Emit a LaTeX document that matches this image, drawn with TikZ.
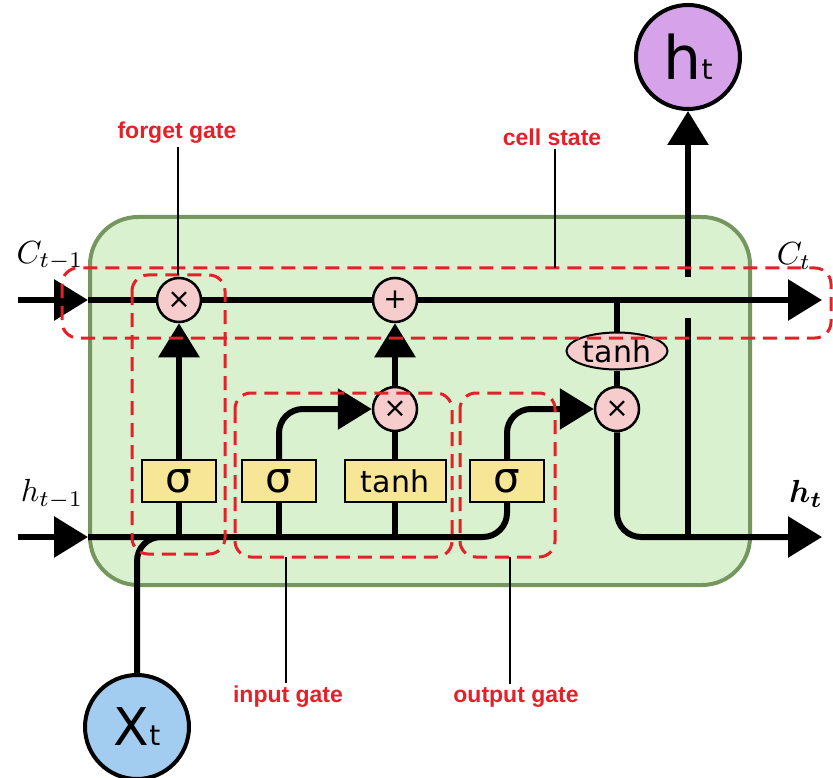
\documentclass[tikz,border=0pt]{standalone}
\usepackage{fontspec}
\usepackage{bm}
\usepackage{graphicx}
\usetikzlibrary{arrows.meta,shapes.geometric}
\newfontfamily\gatefont{DejaVu Sans}
\newfontfamily\notefont{Liberation Sans}
\definecolor{cellgreen}{RGB}{218,241,207}
\definecolor{celledge}{RGB}{118,150,96}
\definecolor{oppink}{RGB}{246,204,204}
\definecolor{layeryellow}{RGB}{246,230,150}
\definecolor{outpurple}{RGB}{214,162,234}
\definecolor{inblue}{RGB}{162,204,240}
\definecolor{notered}{RGB}{228,32,40}
\newcommand{\bigmath}[1]{\scalebox{3.2}{$#1$}}

\begin{document}
\begin{tikzpicture}[x=1pt,y=-1pt,>={Triangle[length=34pt,width=40pt]},
layer/.style={draw=black,line width=2pt,fill=layeryellow,minimum height=42pt,inner sep=0pt,font=\gatefont\fontsize{30}{30}\selectfont},
op/.style={circle,draw=black,line width=2.5pt,fill=oppink,minimum size=44pt,inner sep=0pt,font=\gatefont\fontsize{28}{28}\selectfont},
io/.style={circle,draw=black,line width=4pt,minimum size=104pt,inner sep=0pt},
flow/.style={line width=6pt},
gate/.style={draw=notered,line width=3pt,dash pattern=on 14pt off 8pt,rounded corners=16pt},
note/.style={text=notered,font=\notefont\bfseries\fontsize{23}{23}\selectfont},
pin/.style={line width=2pt}]
\useasboundingbox (0,0) rectangle (833,778);
\draw[draw=celledge,fill=cellgreen,line width=4pt,rounded corners=48pt] (90,217) rectangle (750,585);

% pointwise operations and layers
\node[op] (forget) at (179,300) {×};
\node[op] (add) at (395,300) {+};
\node[op] (inmul) at (395,409) {×};
\node[op] (outmul) at (617,409) {×};
\node[draw=black,line width=2pt,fill=oppink,ellipse,minimum width=101pt,minimum height=37pt,inner sep=0pt,font=\gatefont\fontsize{30}{30}\selectfont] (squash) at (617,351) {tanh};
\node[layer,minimum width=74pt,font=\gatefont\fontsize{42}{42}\selectfont] (fsig) at (179,481) {σ};
\node[layer,minimum width=74pt,font=\gatefont\fontsize{42}{42}\selectfont] (isig) at (279,481) {σ};
\node[layer,minimum width=101pt] (itanh) at (395,481) {tanh};
\node[layer,minimum width=74pt,font=\gatefont\fontsize{42}{42}\selectfont] (osig) at (507,481) {σ};
\node[io,fill=outpurple] (ht) at (688,57) {\gatefont\fontsize{60}{60}\selectfont h{\fontsize{28}{28}\selectfont t}};
\node[io,fill=inblue] (xt) at (137,727) {\gatefont\fontsize{52}{52}\selectfont X{\fontsize{28}{28}\selectfont t}};

\node (clast) at (50,256) {\bigmath{C_{t-1}}};
\node (cnext) at (794,256) {\bigmath{C_t}};
\node (hlast) at (52,494) {\bigmath{h_{t-1}}};
\node (hnext) at (806,494) {\bigmath{\bm{h_t}}};

\coordinate (cin) at (18,300);
\coordinate (cedge) at (88,300);
\coordinate (cout) at (822,300);
\coordinate (hin) at (18,537);
\coordinate (hedge) at (88,537);
\coordinate (hout) at (822,537);
\coordinate (tap) at (617,300);
\coordinate (hsplit) at (688,537);
\coordinate (hgap) at (688,318);
\coordinate (hresume) at (688,277);
\coordinate (xjoin) at (200,537);

% cell state and hidden state
\draw[flow,->] (cin) -- (cedge);
\draw[flow,->] (cedge) -- (forget) -- (add) -- (cout);
\draw[flow,->] (hin) -- (hedge);
\draw[flow,rounded corners=24pt] (hedge) -| (osig);
\draw[flow,rounded corners=24pt] (xt) |- (xjoin);
\draw[flow] (fsig.south) -- (fsig.south |- hin);
\draw[flow] (isig.south) -- (isig.south |- hin);
\draw[flow] (itanh.south) -- (itanh.south |- hin);
\draw[flow,->] (fsig) -- (forget);
\draw[flow,->,rounded corners=24pt] (isig) |- (inmul);
\draw[flow] (itanh) -- (inmul);
\draw[flow,->] (inmul) -- (add);
\draw[flow,->,rounded corners=24pt] (osig) |- (outmul);
\draw[flow] (tap) -- (squash);
\draw[flow] (squash) -- (outmul);
\draw[flow,->,rounded corners=24pt] (outmul) |- (hout);
\draw[flow] (hsplit) -- (hgap);
\draw[flow,->] (hresume) -- (ht);

% gates
\draw[gate] (62,268) rectangle (831,338);
\draw[gate] (132,275) rectangle (225,554);
\draw[gate] (235,393) rectangle (452,557);
\draw[gate] (460,393) rectangle (555,557);

\node[note] (fglabel) at (177,133) {forget gate};
\node[note] (cslabel) at (552,137) {cell state};
\node[note] (iglabel) at (288,697) {input gate};
\node[note] (oglabel) at (516,697) {output gate};
\coordinate (fgpin) at (178,275);
\coordinate (cspin) at (555,268);
\coordinate (igpin) at (286,557);
\coordinate (ogpin) at (510,557);
\draw[pin] (fglabel.south -| fgpin) -- (fgpin);
\draw[pin] (cslabel.south -| cspin) -- (cspin);
\draw[pin] (iglabel.north -| igpin) -- (igpin);
\draw[pin] (oglabel.north -| ogpin) -- (ogpin);
\end{tikzpicture}
\end{document}
